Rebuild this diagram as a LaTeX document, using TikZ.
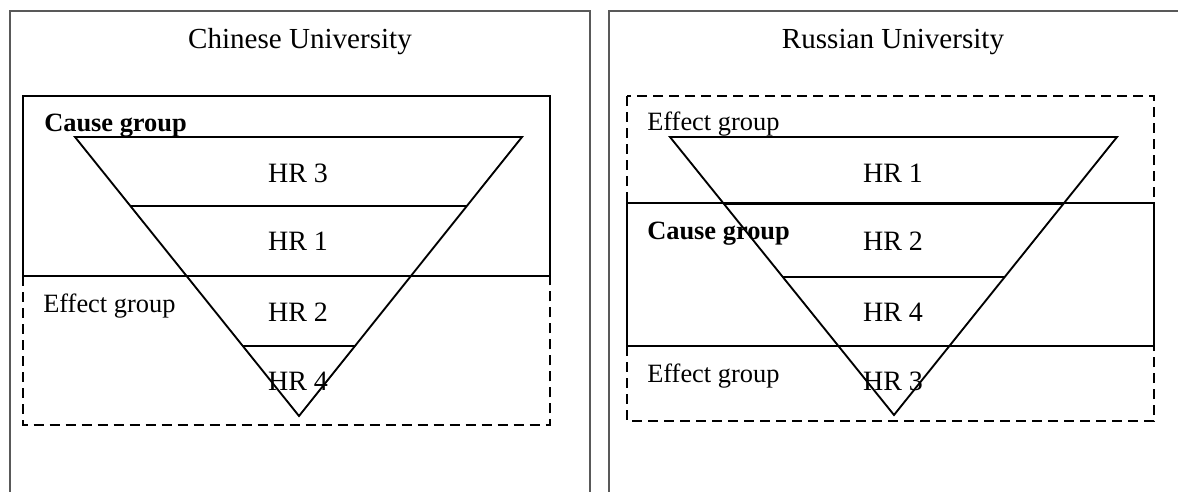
\documentclass[tikz,border=0pt]{standalone}
\usepackage{fontspec}
\setmainfont{Liberation Serif}
\usetikzlibrary{calc}
\begin{document}
\begin{tikzpicture}[x=0.75pt,y=-0.75pt,
  frame/.style={draw=black!65, line width=0.9pt},
  grp/.style={draw=black, line width=1.3pt},
  grpdash/.style={draw=black, line width=1.3pt, dash pattern=on 7.5pt off 4.5pt},
  tri/.style={draw=black, line width=1.4pt, line join=miter},
  ttl/.style={inner sep=0pt, anchor=base, font=\fontsize{21.8pt}{26pt}\selectfont},
  hrtext/.style={inner sep=0pt, anchor=base, font=\fontsize{21pt}{25pt}\selectfont},
  lbl/.style={inner sep=0pt, anchor=base west, font=\fontsize{19.8pt}{24pt}\selectfont},
  ]
\useasboundingbox (0,0) rectangle (1178,492);

% outer frames (open at the bottom / right)
\draw[frame] (10,492) -- (10,11) -- (590,11) -- (590,492);
\draw[frame] (609,492) -- (609,11) -- (1180,11);

% ---------------- Chinese University ----------------
\node[ttl] (tcn) at (300,49) {Chinese University};
\draw[grpdash] (22.7,276) rectangle (550,425);
\draw[grp] (22.7,96) rectangle (550,276);
\node[lbl, font=\fontsize{19.8pt}{24pt}\selectfont\bfseries] (cgl) at (44,132) {Cause group};
\node[lbl] (egl) at (43,312) {Effect group};

\coordinate (ltl) at (75,137);
\coordinate (ltr) at (522,137);
\coordinate (lap) at (299,416);
\node[hrtext] (l3) at (298,182) {HR 3};
\node[hrtext] (l1) at (298,250) {HR 1};
\node[hrtext] (l2) at (298,321) {HR 2};
\node[hrtext] (l4) at (298,390) {HR 4};
\draw[tri] (ltl) -- (ltr) -- (lap) -- cycle;
\draw[tri] ($(ltl)!0.2473!(lap)$) -- ($(ltr)!0.2473!(lap)$);
\draw[tri] ($(ltl)!0.4982!(lap)$) -- ($(ltr)!0.4982!(lap)$);
\draw[tri] ($(ltl)!0.7491!(lap)$) -- ($(ltr)!0.7491!(lap)$);

% ---------------- Russian University ----------------
\node[ttl] (tru) at (893,49) {Russian University};
\draw[grpdash] (627,96) rectangle (1154,203);
\draw[grpdash] (627,346) rectangle (1154,421);
\draw[grp] (627,203) rectangle (1154,346);
\node[lbl] (egr1) at (647,130) {Effect group};
\node[lbl, font=\fontsize{19.8pt}{24pt}\selectfont\bfseries] (cgr) at (647,239) {Cause group};
\node[lbl] (egr2) at (647,382) {Effect group};

\coordinate (rtl) at (670,137);
\coordinate (rtr) at (1117,137);
\coordinate (rap) at (894,415);
\node[hrtext] (r1) at (893,182) {HR 1};
\node[hrtext] (r2) at (893,250) {HR 2};
\node[hrtext] (r4) at (893,321) {HR 4};
\node[hrtext] (r3) at (893,390) {HR 3};
\draw[tri] (rtl) -- (rtr) -- (rap) -- cycle;
\draw[tri] ($(rtl)!0.2410!(rap)$) -- ($(rtr)!0.2410!(rap)$);
\draw[tri] ($(rtl)!0.5036!(rap)$) -- ($(rtr)!0.5036!(rap)$);
\draw[tri] ($(rtl)!0.7518!(rap)$) -- ($(rtr)!0.7518!(rap)$);
\end{tikzpicture}
\end{document}
